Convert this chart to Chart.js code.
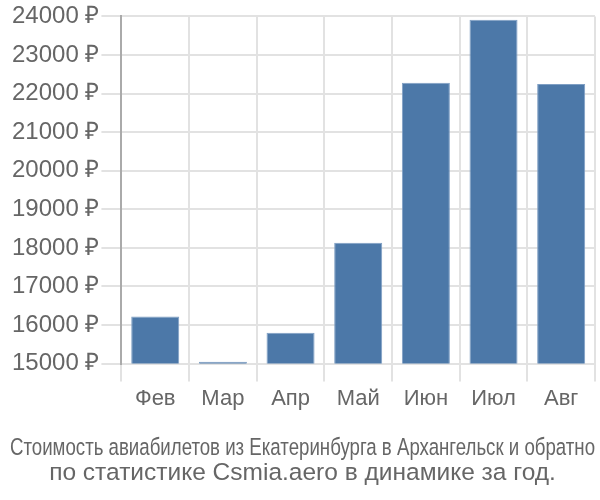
<!DOCTYPE html>
<html lang="ru">
<head>
    <meta charset="UTF-8">
    <title>Стоимость авиабилетов</title>
    <script src="https://cdn.jsdelivr.net/npm/chart.js"></script>
    <style>
        html, body { margin: 0; padding: 0; background: #fff; }
        .chart-container { width: 600px; height: 500px; }
    </style>
</head>
<body>
    <div class="chart-container">
        <canvas id="priceChart"></canvas>
    </div>
    <script>
        // Months and average ticket price (roubles)
        const months = ['Фев', 'Мар', 'Апр', 'Май', 'Июн', 'Июл', 'Авг'];
        const prices = [16220, 15050, 15800, 18130, 22280, 23910, 22250];
        const yMin = 15000;
        const yMax = 24000;
        const yStep = 1000;
        const titleLines = [
            'Стоимость авиабилетов из Екатеринбурга в Архангельск и обратно',
            'по статистике Csmia.aero в динамике за год.'
        ];

        const fontFamily = 'Liberation Sans, Arial, sans-serif';
        const ctx = document.getElementById('priceChart').getContext('2d');
        new Chart(ctx, {
            type: 'bar',
            data: {
                labels: months,
                datasets: [{
                    data: prices,
                    backgroundColor: '#4c78a8',
                    borderColor: '#7f9fc4',
                    borderWidth: 1,
                    categoryPercentage: 0.71,
                    barPercentage: 1.0,
                }],
            },
            options: {
                responsive: true,
                maintainAspectRatio: false,
                animation: false,
                layout: { padding: { top: 3, right: 5, left: 10, bottom: 0 } },
                plugins: {
                    legend: { display: false },
                    tooltip: { enabled: false },
                    title: {
                        display: true,
                        position: 'bottom',
                        text: titleLines,
                        color: '#666',
                        font: { family: fontFamily, size: 24.5, weight: 'normal', lineHeight: 1.02 },
                        padding: { top: 20, bottom: 14 },
                    },
                },
                scales: {
                    x: {
                        grid: { color: '#e2e2e2', lineWidth: 2, tickLength: 18, offset: true },
                        border: { color: '#e2e2e2', width: 2 },
                        ticks: {
                            color: '#666',
                            font: { family: fontFamily, size: 22 },
                            padding: 4,
                        },
                    },
                    y: {
                        min: yMin,
                        max: yMax,
                        grid: { color: '#e2e2e2', lineWidth: 2, tickLength: 20 },
                        border: { color: '#aaa', width: 2 },
                        ticks: {
                            stepSize: yStep,
                            color: '#666',
                            padding: 2,
                            font: { family: fontFamily, size: 24 },
                            callback: v => v + ' ₽',
                        },
                    },
                },
            },
        });
    </script>
</body>
</html>
